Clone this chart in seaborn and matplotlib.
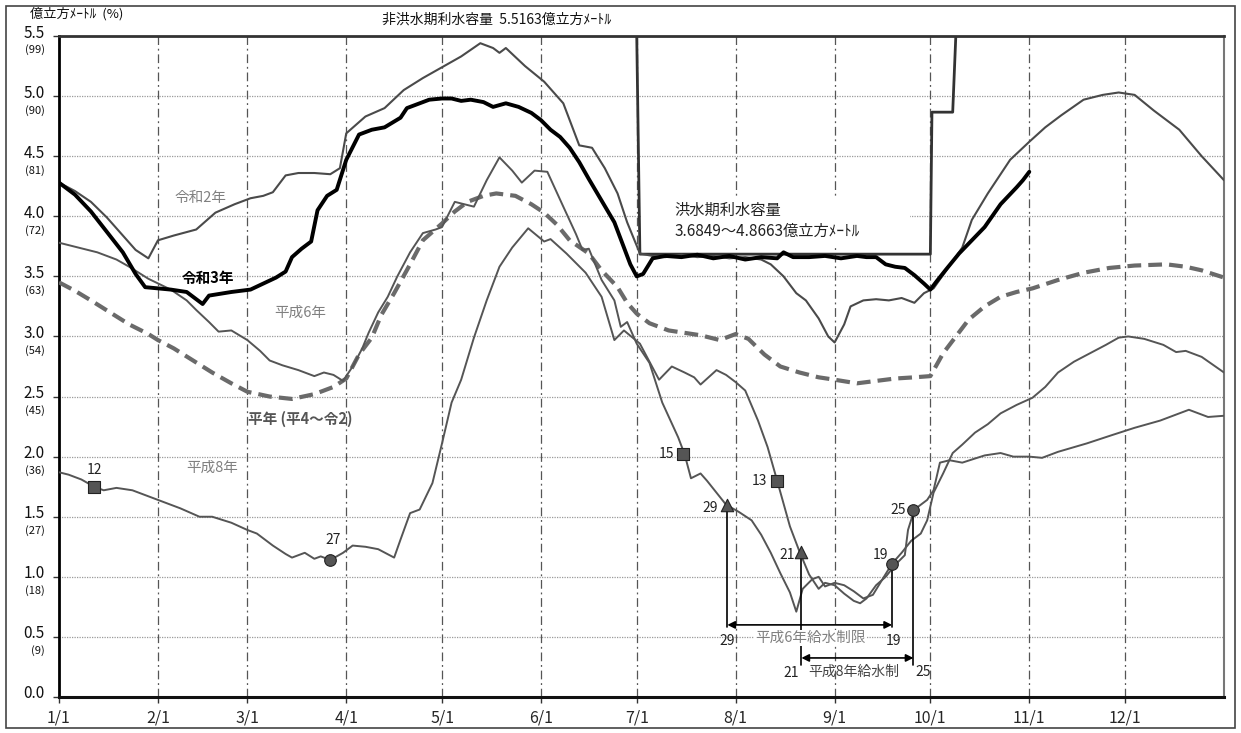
import numpy as np
import pandas as pd
import matplotlib
matplotlib.use("Agg")
import matplotlib.pyplot as plt
import matplotlib.transforms as mtransforms
from matplotlib.patches import Rectangle
import seaborn as sns

# --- DATA (x = day of year, 0 = 1/1; y = 億立方ﾒｰﾄﾙ) ---

month_days = [0, 31, 59, 90, 120, 151, 181, 212, 243, 273, 304, 334]
month_labels = ["1/1", "2/1", "3/1", "4/1", "5/1", "6/1", "7/1", "8/1", "9/1", "10/1", "11/1", "12/1"]

y_ticks = [0.0, 0.5, 1.0, 1.5, 2.0, 2.5, 3.0, 3.5, 4.0, 4.5, 5.0, 5.5]
y_labels = ["0.0", "0.5", "1.0", "1.5", "2.0", "2.5", "3.0", "3.5", "4.0", "4.5", "5.0", "5.5"]
pct_labels = ["", "(9)", "(18)", "(27)", "(36)", "(45)", "(54)", "(63)", "(72)", "(81)", "(90)", "(99)"]

# 令和3年
r3_days = [0, 5, 10, 15, 20, 24, 27, 35, 40, 45, 47, 54, 60, 64, 68, 71, 73, 76, 79, 81, 84, 87, 90,
           94, 98, 102, 107, 109, 113, 116, 120, 123, 126, 129, 133, 136, 140, 144, 148, 151, 154,
           157, 160, 163, 166, 170, 174, 177, 179, 181, 183, 186, 190, 195, 200, 205, 210, 215, 220,
           225, 227, 230, 235, 240, 245, 250, 253, 256, 259, 262, 265, 268, 271, 273, 275, 278, 282,
           286, 290, 295, 300, 302, 304]
r3_vals = [4.28, 4.18, 4.04, 3.87, 3.70, 3.52, 3.41, 3.39, 3.37, 3.27, 3.34, 3.37, 3.39, 3.44, 3.49,
           3.54, 3.66, 3.73, 3.79, 4.05, 4.17, 4.22, 4.47, 4.68, 4.72, 4.74, 4.82, 4.90, 4.94, 4.97,
           4.98, 4.98, 4.96, 4.97, 4.95, 4.91, 4.94, 4.91, 4.86, 4.80, 4.72, 4.66, 4.57, 4.45, 4.31,
           4.13, 3.95, 3.74, 3.60, 3.50, 3.52, 3.65, 3.67, 3.66, 3.68, 3.65, 3.67, 3.64, 3.66, 3.65,
           3.70, 3.66, 3.66, 3.67, 3.65, 3.67, 3.66, 3.66, 3.60, 3.58, 3.57, 3.51, 3.44, 3.39, 3.46,
           3.56, 3.69, 3.80, 3.91, 4.10, 4.24, 4.30, 4.37]

# 令和2年
r2_days = [0, 5, 10, 15, 20, 24, 28, 31, 36, 43, 49, 55, 60, 64, 67, 71, 75, 80, 85, 88, 90, 96, 102,
           108, 114, 120, 126, 132, 136, 138, 140, 146, 152, 158, 163, 167, 171, 175, 178, 182, 186,
           190, 195, 200, 205, 210, 215, 220, 223, 227, 231, 234, 238, 241, 243, 246, 248, 252, 256,
           260, 264, 268, 271, 274, 278, 283, 286, 291, 295, 298, 304, 309, 314, 321, 327, 332, 337,
           343, 348, 351, 358, 365]
r2_vals = [4.28, 4.21, 4.12, 3.99, 3.84, 3.72, 3.65, 3.80, 3.84, 3.89, 4.03, 4.10, 4.15, 4.17, 4.20,
           4.34, 4.36, 4.36, 4.35, 4.40, 4.69, 4.83, 4.90, 5.05, 5.15, 5.24, 5.33, 5.44, 5.40, 5.36,
           5.40, 5.25, 5.12, 4.94, 4.59, 4.57, 4.40, 4.19, 3.95, 3.69, 3.67, 3.66, 3.68, 3.66, 3.67,
           3.65, 3.66, 3.64, 3.60, 3.50, 3.36, 3.30, 3.15, 3.00, 2.95, 3.10, 3.25, 3.30, 3.31, 3.30,
           3.32, 3.28, 3.36, 3.40, 3.55, 3.74, 3.97, 4.19, 4.35, 4.47, 4.62, 4.74, 4.84, 4.97, 5.01,
           5.03, 5.01, 4.88, 4.78, 4.72, 4.50, 4.30]

# 平年 (平4～令2)
avg_days = [0, 5, 10, 16, 22, 28, 31, 36, 42, 48, 54, 59, 66, 73, 80, 86, 90, 94, 98, 101, 105, 110,
            114, 120, 124, 128, 133, 137, 143, 148, 152, 156, 160, 166, 170, 175, 178, 181, 185, 191,
            201, 207, 212, 216, 221, 226, 232, 238, 243, 250, 256, 262, 268, 273, 277, 281, 285, 290,
            295, 300, 305, 313, 321, 329, 337, 347, 353, 358, 365]
avg_vals = [3.45, 3.38, 3.30, 3.20, 3.10, 3.02, 2.97, 2.90, 2.80, 2.70, 2.61, 2.54, 2.50, 2.48, 2.52,
            2.58, 2.65, 2.85, 2.99, 3.18, 3.36, 3.60, 3.80, 3.94, 4.04, 4.12, 4.17, 4.19, 4.17, 4.10,
            4.03, 3.93, 3.80, 3.69, 3.55, 3.41, 3.28, 3.19, 3.11, 3.05, 3.01, 2.97, 3.02, 2.98, 2.85,
            2.75, 2.70, 2.66, 2.64, 2.61, 2.63, 2.65, 2.66, 2.67, 2.86, 3.00, 3.14, 3.25, 3.33, 3.37,
            3.40, 3.47, 3.53, 3.57, 3.59, 3.60, 3.58, 3.55, 3.49]

# 平成6年
h6_days = [0, 6, 12, 18, 22, 28, 35, 40, 43, 47, 50, 54, 59, 63, 66, 70, 75, 80, 83, 86, 89, 92, 95,
           97, 100, 103, 106, 110, 114, 118, 120, 124, 127, 130, 134, 138, 142, 145, 149, 153, 158,
           162, 164, 166, 170, 174, 176, 178, 181, 185, 189, 194, 196, 198, 201, 203, 206, 209, 213,
           217, 220, 223, 226, 229, 231, 233, 236, 238, 240, 243, 246, 249, 252, 255, 258, 261, 264,
           267, 270, 272, 274, 277, 280, 283, 287, 291, 295, 300, 305, 309, 313, 318, 323, 328, 332,
           335, 340, 346, 350, 353, 358, 365]
h6_vals = [3.78, 3.74, 3.70, 3.64, 3.58, 3.48, 3.39, 3.30, 3.22, 3.12, 3.04, 3.05, 2.97, 2.88, 2.80,
           2.76, 2.72, 2.67, 2.70, 2.68, 2.63, 2.75, 2.90, 3.03, 3.20, 3.33, 3.50, 3.70, 3.86, 3.89,
           3.91, 4.12, 4.10, 4.08, 4.30, 4.49, 4.38, 4.28, 4.38, 4.37, 4.08, 3.85, 3.72, 3.73, 3.47,
           3.30, 3.08, 3.12, 2.94, 2.78, 2.45, 2.16, 2.02, 1.82, 1.86, 1.80, 1.70, 1.60, 1.54, 1.47,
           1.35, 1.20, 1.03, 0.87, 0.71, 0.90, 0.98, 1.00, 0.92, 0.95, 0.93, 0.88, 0.82, 0.85, 0.98,
           1.11, 1.20, 1.30, 1.36, 1.47, 1.70, 1.86, 2.03, 2.10, 2.20, 2.27, 2.36, 2.43, 2.49, 2.58,
           2.70, 2.79, 2.86, 2.93, 2.99, 3.00, 2.98, 2.93, 2.87, 2.88, 2.83, 2.70]

# 平成8年
h8_days = [0, 3, 7, 11, 14, 18, 23, 27, 31, 38, 44, 48, 54, 59, 62, 67, 71, 73, 77, 80, 82, 85, 89,
           92, 96, 100, 105, 107, 110, 113, 117, 120, 123, 126, 130, 134, 138, 142, 147, 152, 154,
           159, 165, 170, 174, 177, 182, 188, 192, 196, 199, 201, 206, 209, 212, 215, 219, 222, 225,
           227, 229, 232, 235, 238, 240, 243, 246, 249, 251, 253, 256, 259, 262, 265, 266, 268, 270,
           272, 274, 276, 279, 283, 290, 295, 299, 304, 308, 313, 322, 330, 337, 345, 354, 360, 365]
h8_vals = [1.87, 1.85, 1.81, 1.75, 1.72, 1.74, 1.72, 1.68, 1.64, 1.57, 1.50, 1.50, 1.45, 1.39, 1.36,
           1.26, 1.19, 1.16, 1.20, 1.15, 1.17, 1.14, 1.20, 1.26, 1.25, 1.23, 1.16, 1.31, 1.53, 1.56,
           1.78, 2.11, 2.45, 2.64, 2.99, 3.30, 3.58, 3.74, 3.90, 3.79, 3.81, 3.69, 3.53, 3.33, 2.97,
           3.05, 2.94, 2.64, 2.75, 2.70, 2.66, 2.60, 2.72, 2.68, 2.62, 2.55, 2.30, 2.08, 1.80, 1.61,
           1.42, 1.21, 1.02, 0.90, 0.95, 0.93, 0.86, 0.80, 0.78, 0.82, 0.93, 1.00, 1.10, 1.18, 1.39,
           1.56, 1.60, 1.64, 1.72, 1.95, 1.97, 1.95, 2.01, 2.03, 2.00, 2.00, 1.99, 2.04, 2.11, 2.18,
           2.24, 2.30, 2.39, 2.33, 2.34]

# 洪水期 / 非洪水期 利水容量
cap_days = [181, 182, 273, 273.5, 280, 281]
cap_vals = [5.5163, 3.6849, 3.6849, 4.8663, 4.8663, 5.5163]

# markers on the drought years
mk_days = [11, 85, 195.6, 209.4, 224.8, 232.6, 261, 267.7]
mk_vals = [1.75, 1.14, 2.02, 1.60, 1.80, 1.21, 1.11, 1.56]
mk_text = ["12", "27", "15", "29", "13", "21", "19", "25"]
mk_shape = ["s", "o", "s", "^", "s", "^", "o", "o"]

# 給水制限 periods (start day, end day)
h6_limit = (209.4, 261)
h8_limit = (232.6, 267.7)

# --- STYLE ---
sns.set_style("white")
plt.rcParams['font.family'] = ['Noto Sans CJK JP', 'DejaVu Sans']

W, H = 1241, 733
fig = plt.figure(figsize=(W / 100, H / 100), dpi=100)
ax = fig.add_axes([59 / W, 36 / H, (1224 - 59) / W, (697 - 36) / H])

line_gray = "#555555"
text_gray = "#808080"

# grid
for y in y_ticks[1:]:
    ax.axhline(y, color="#9a9a9a", lw=0.9, ls=(0, (1, 1)), zorder=0.5)
for d in month_days[1:]:
    ax.axvline(d, color="#555555", lw=0.9, ls=(0, (7, 3, 1.5, 3)), zorder=0.5)

# white box behind flood-season text
ax.add_patch(Rectangle((182.5, 3.745), 84, 0.42, facecolor="white", edgecolor="none", zorder=0.8))

sns.lineplot(x=cap_days, y=cap_vals, ax=ax, color="#333333", linewidth=2.0, sort=False,
             estimator=None, zorder=2)
sns.lineplot(x=avg_days, y=avg_vals, ax=ax, color="#6a6a6a", linewidth=3.0, linestyle=(0, (3.3, 1.7)),
             sort=False, estimator=None, zorder=3)
sns.lineplot(x=h6_days, y=h6_vals, ax=ax, color=line_gray, linewidth=1.4, sort=False, estimator=None, zorder=3)
sns.lineplot(x=h8_days, y=h8_vals, ax=ax, color=line_gray, linewidth=1.4, sort=False, estimator=None, zorder=3)
sns.lineplot(x=r2_days, y=r2_vals, ax=ax, color="#4a4a4a", linewidth=1.5, sort=False, estimator=None, zorder=3)
sns.lineplot(x=r3_days, y=r3_vals, ax=ax, color="black", linewidth=2.8, sort=False, estimator=None, zorder=4)

# restriction arrows and drop lines
ax.plot([h6_limit[0]] * 2, [mk_vals[3], 0.58], color="black", lw=1.2, zorder=3)
ax.plot([h6_limit[1]] * 2, [mk_vals[6], 0.58], color="black", lw=1.2, zorder=3)
ax.plot([h8_limit[0]] * 2, [mk_vals[5], 0.27], color="black", lw=1.2, zorder=3)
ax.plot([h8_limit[1]] * 2, [mk_vals[7], 0.27], color="black", lw=1.2, zorder=3)
arrow = dict(arrowstyle="<|-|>", color="black", lw=1.2, shrinkA=0, shrinkB=0, mutation_scale=11)
ax.annotate("", xy=(h6_limit[1], 0.60), xytext=(h6_limit[0], 0.60), arrowprops=arrow, zorder=4)
ax.annotate("", xy=(h8_limit[1], 0.325), xytext=(h8_limit[0], 0.325), arrowprops=arrow, zorder=4)

for d, v, s in zip(mk_days, mk_vals, mk_shape):
    ax.scatter([d], [v], marker=s, s=70 if s != "^" else 80, color="#555555",
               edgecolor="#222222", linewidth=0.8, zorder=5)

# marker day labels
mk_pos = {"12": (11, 1.89, "center"), "27": (86, 1.31, "center"), "15": (192.8, 2.02, "right"),
          "29": (206.5, 1.57, "right"), "13": (221.8, 1.80, "right"), "21": (230.6, 1.18, "right"),
          "19": (259.8, 1.18, "right"), "25": (265.3, 1.56, "right")}
for t in mk_text:
    x, y, ha = mk_pos[t]
    ax.text(x, y, t, ha=ha, va="center", fontsize=10, color="#222222", zorder=6)

ax.text(h6_limit[0], 0.47, "29", ha="center", va="center", fontsize=10, color="#222222")
ax.text(h6_limit[1] + 0.5, 0.47, "19", ha="center", va="center", fontsize=10, color="#222222")
ax.text(h8_limit[0] - 3.2, 0.20, "21", ha="center", va="center", fontsize=10, color="#222222")
ax.text(h8_limit[1] + 3, 0.21, "25", ha="center", va="center", fontsize=10, color="#222222")
ax.text(235.4, 0.49, "平成6年給水制限", ha="center", va="center", fontsize=10.5, color=text_gray,
        bbox=dict(facecolor="white", edgecolor="none", pad=0.5), zorder=4)
ax.text(249, 0.21, "平成8年給水制", ha="center", va="center", fontsize=10, color="#444444")

# series labels
ax.text(44.2, 4.15, "令和2年", ha="center", va="center", fontsize=10.5, color=text_gray)
ax.text(46.7, 3.49, "令和3年", ha="center", va="center", fontsize=10.5, color="black", fontweight="bold")
ax.text(75.5, 3.20, "平成6年", ha="center", va="center", fontsize=10.5, color=text_gray)
ax.text(75.5, 2.31, "平年 (平4～令2)", ha="center", va="center", fontsize=10.5, color="#555555",
        fontweight="bold")
ax.text(48, 1.91, "平成8年", ha="center", va="center", fontsize=10.5, color=text_gray)

ax.text(192.8, 4.05, "洪水期利水容量", ha="left", va="center", fontsize=11, color="#222222", zorder=6)
ax.text(192.8, 3.87, "3.6849～4.8663億立方ﾒｰﾄﾙ", ha="left", va="center", fontsize=11,
        color="#222222", zorder=6)

# axes
ax.set_xlim(0, 365)
ax.set_ylim(0, 5.5)
ax.set_xticks(month_days)
ax.set_xticklabels(month_labels, fontsize=11.5)
ax.set_yticks(y_ticks)
ax.set_yticklabels([])
ax.tick_params(axis="both", direction="out", length=4, width=1, color="#333333", left=True, bottom=True)
ax.tick_params(axis="x", pad=5)
ax.set_xlabel("")
ax.set_ylabel("")
for side, c, w in [("left", "black", 2.0), ("bottom", "#111111", 2.2), ("top", "#333333", 2.0),
                   ("right", "#777777", 1.5)]:
    ax.spines[side].set_color(c)
    ax.spines[side].set_linewidth(w)

ytrans = mtransforms.blended_transform_factory(ax.transAxes, ax.transData)
num_tr = mtransforms.offset_copy(ytrans, fig=fig, x=-14, y=3, units="dots")
pct_tr = mtransforms.offset_copy(ytrans, fig=fig, x=-14, y=-14, units="dots")
for y, lab, pct in zip(y_ticks, y_labels, pct_labels):
    ax.text(0, y, lab, transform=num_tr, ha="right", va="center", fontsize=11, color="#111111")
    if pct:
        ax.text(0, y, pct, transform=pct_tr, ha="right", va="center", fontsize=8, color="#111111")

fig.text(30 / W, 1 - 14 / H, "億立方ﾒｰﾄﾙ  (%)", ha="left", va="center", fontsize=9.5, color="#111111")
fig.text(382 / W, 1 - 20 / H, "非洪水期利水容量  5.5163億立方ﾒｰﾄﾙ", ha="left", va="center",
         fontsize=10, color="#111111")

fig.add_artist(Rectangle((6 / W, 5 / H), 1229 / W, 722 / H, transform=fig.transFigure,
                         facecolor="none", edgecolor="#444444", lw=1.2))

fig.savefig("out.png", dpi=100)
